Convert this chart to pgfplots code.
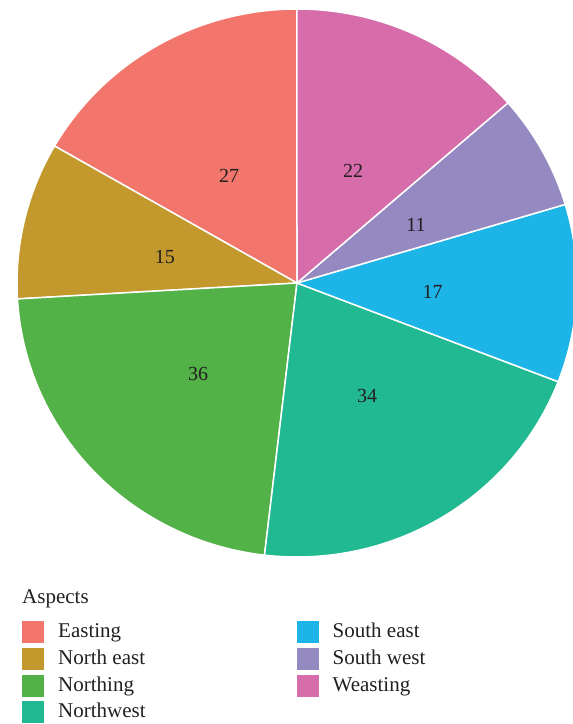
\documentclass[border=0pt]{standalone}
\usepackage{fontspec}
\setmainfont{Liberation Serif}
\usepackage{pgfplots}
\usepackage{pgfplotstable}
\pgfplotsset{compat=1.18}

\definecolor{slice0}{HTML}{F3766D}
\definecolor{slice1}{HTML}{C3992D}
\definecolor{slice2}{HTML}{52B247}
\definecolor{slice3}{HTML}{21B992}
\definecolor{slice4}{HTML}{1DB4E8}
\definecolor{slice5}{HTML}{9589C2}
\definecolor{slice6}{HTML}{D66CAA}
\definecolor{textc}{HTML}{231F20}

\pgfplotstableread{
name value
Easting 27
NorthEast 15
Northing 36
Northwest 34
SouthEast 17
SouthWest 11
Weasting 22
}\aspects

\gdef\total{0}
\pgfplotstableforeachcolumnelement{value}\of\aspects\as\v{%
  \pgfmathparse{\total+\v}\xdef\total{\pgfmathresult}}
\gdef\cum{0}
\pgfplotstableforeachcolumnelement{value}\of\aspects\as\v{%
  \pgfmathparse{90+(\cum/\total)*360}\expandafter\xdef\csname sa\pgfplotstablerow\endcsname{\pgfmathresult}%
  \pgfmathparse{\cum+\v}\xdef\cum{\pgfmathresult}%
  \pgfmathparse{90+(\cum/\total)*360}\expandafter\xdef\csname se\pgfplotstablerow\endcsname{\pgfmathresult}%
  \expandafter\xdef\csname sv\pgfplotstablerow\endcsname{\v}%
}

\begin{document}
\begin{tikzpicture}
\useasboundingbox (0,0) rectangle (573bp,724bp);
\begin{axis}[
  at={(0,0)}, anchor=south west,
  x=1bp, y=1bp,
  xmin=-297, xmax=276, ymin=-441, ymax=283,
  hide axis, clip=true,
  legend image code/.code={\fill[#1, draw=none] (0bp,-11.1bp) rectangle (22bp,10.9bp);},
  legend columns=4, transpose legend,
  legend cell align=left,
  legend style={at={(axis cs:-275,-337.7)}, anchor=north west,
    draw=none, fill=none, inner sep=0pt,
    font=\fontsize{21bp}{24bp}\selectfont, text=textc,
    row sep=4.7bp,
    /tikz/every odd column/.style={column sep=14bp},
    /tikz/every even column/.style={column sep=151bp},
    nodes={inner sep=0pt, text height=16.6bp, text depth=5.4bp}},
  legend entries={Easting, North east, Northing, Northwest, South east, South west, Weasting},
]
\pgfplotsinvokeforeach{0,...,6}{
  \fill[slice#1, draw=white, line width=1.5bp, line join=round]
    (axis cs:0,0) -- (axis cs:{280*cos(\csname sa#1\endcsname)},{274*sin(\csname sa#1\endcsname)})
    arc[start angle=\csname sa#1\endcsname, end angle=\csname se#1\endcsname, x radius=280bp, y radius=274bp] -- cycle;
}
\pgfplotsinvokeforeach{0,...,6}{
  \node[font=\fontsize{20bp}{24bp}\selectfont, text=textc, inner sep=0pt, yshift=-3.5bp]
    at (axis cs:{0.485*280*cos((\csname sa#1\endcsname+\csname se#1\endcsname)/2)},{0.465*274*sin((\csname sa#1\endcsname+\csname se#1\endcsname)/2)})
    {\csname sv#1\endcsname};
}
\addlegendimage{fill=slice0}
\addlegendimage{fill=slice1}
\addlegendimage{fill=slice2}
\addlegendimage{fill=slice3}
\addlegendimage{fill=slice4}
\addlegendimage{fill=slice5}
\addlegendimage{fill=slice6}
\end{axis}
\node[anchor=base west, inner sep=0pt, font=\fontsize{21bp}{24bp}\selectfont, text=textc] at (22bp,120bp) {Aspects};
\end{tikzpicture}
\end{document}
